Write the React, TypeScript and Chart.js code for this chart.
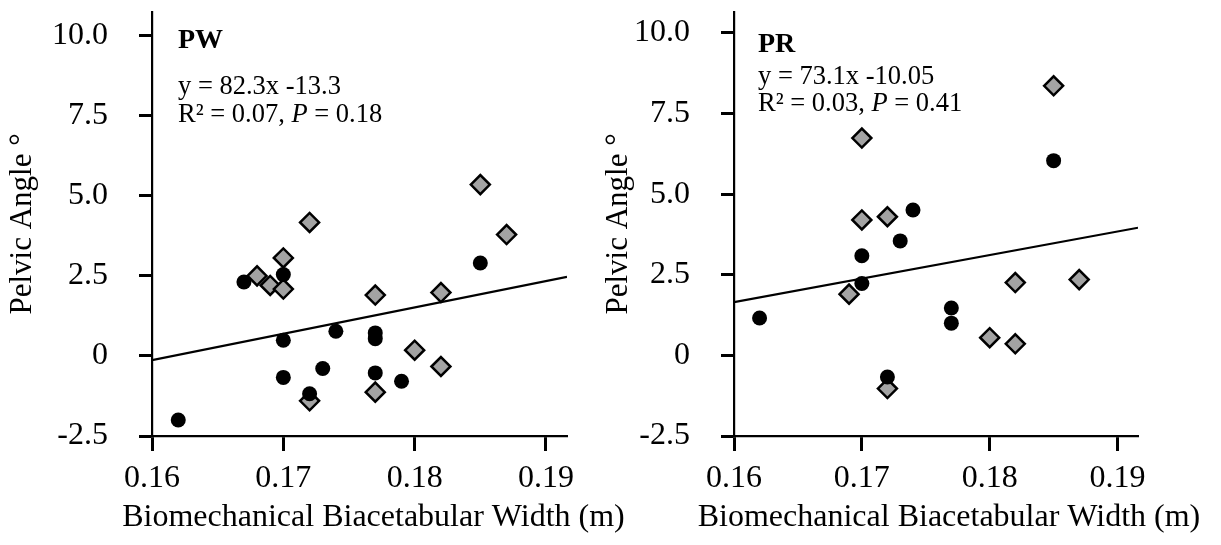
import React, { useEffect, useRef } from 'react';
import { Chart, registerables } from 'chart.js';

Chart.register(...registerables);

const FONT = '"Liberation Serif", "Times New Roman", Times, serif';

// axis ticks
const xTicks = [0.16, 0.17, 0.18, 0.19];
const xTickLabels = ['0.16', '0.17', '0.18', '0.19'];
const yTicks = [-2.5, 0, 2.5, 5, 7.5, 10];
const yTickLabels = ['-2.5', '0', '2.5', '5.0', '7.5', '10.0'];

// PW panel
const pwCircleX = [0.162, 0.167, 0.170, 0.170, 0.170, 0.172, 0.173, 0.174, 0.177, 0.177, 0.177, 0.179, 0.185];
const pwCircleY = [-2.0, 2.31, 2.54, 0.49, -0.67, -1.18, -0.39, 0.77, 0.72, 0.54, -0.53, -0.79, 2.90];
const pwDiamondX = [0.168, 0.169, 0.170, 0.170, 0.172, 0.172, 0.177, 0.177, 0.180, 0.182, 0.182, 0.185, 0.187];
const pwDiamondY = [2.50, 2.20, 3.06, 2.09, 4.17, -1.40, 1.90, -1.13, 0.18, 1.98, -0.33, 5.35, 3.79];
const pwTrendX = [0.16, 0.1916];
const pwTrendY = [-0.13, 2.47];

// PR panel
const prCircleX = [0.162, 0.170, 0.170, 0.172, 0.173, 0.174, 0.177, 0.177, 0.185];
const prCircleY = [1.16, 3.09, 2.23, -0.67, 3.55, 4.51, 1.47, 1.00, 6.04];
const prDiamondX = [0.169, 0.170, 0.170, 0.172, 0.172, 0.180, 0.182, 0.182, 0.185, 0.187];
const prDiamondY = [1.90, 6.74, 4.20, 4.30, -1.03, 0.55, 2.26, 0.36, 8.36, 2.35];
const prTrendX = [0.16, 0.1916];
const prTrendY = [1.65, 3.96];

const xTitle = 'Biomechanical Biacetabular Width (m)';
const yTitle = 'Pelvic Angle °';

const zip = (xs: number[], ys: number[]) => xs.map((x, i) => ({ x, y: ys[i] }));

const panelTextPlugin = {
  id: 'panelText',
  afterDraw(chart: any, _args: any, opts: any) {
    const ctx = chart.ctx;
    const ca = chart.chartArea;
    ctx.save();
    ctx.fillStyle = '#000';
    ctx.textAlign = 'left';
    ctx.textBaseline = 'alphabetic';
    const x0 = ca.left + opts.dx;
    ctx.font = `bold ${opts.labelSize}px ${FONT}`;
    ctx.fillText(opts.label, x0, opts.labelY);
    ctx.font = `${opts.eqSize}px ${FONT}`;
    ctx.fillText(opts.eq, x0, opts.eqY[0]);
    let x = x0;
    for (const part of opts.stats) {
      ctx.font = `${part.italic ? 'italic ' : ''}${opts.eqSize}px ${FONT}`;
      ctx.fillText(part.t, x, opts.eqY[1]);
      x += ctx.measureText(part.t).width;
    }
    ctx.textAlign = 'center';
    ctx.font = `${opts.xTitleSize}px ${FONT}`;
    ctx.fillText(xTitle, (ca.left + ca.right) / 2 + opts.xTitleShift, opts.xTitleY);
    ctx.restore();
  },
};

type PanelProps = {
  left: number;
  width: number;
  height: number;
  axisLeft: number;
  top: number;
  right: number;
  bottom: number;
  yMax: number;
  yTitlePad: number;
  circles: { x: number; y: number }[];
  diamonds: { x: number; y: number }[];
  trend: { x: number; y: number }[];
  text: any;
};

function Panel(p: PanelProps) {
  const ref = useRef<HTMLCanvasElement>(null);
  useEffect(() => {
    if (!ref.current) return;
    const tickFont = { family: FONT, size: 32 };
    const chart = new Chart(ref.current, {
      type: 'scatter',
      data: {
        datasets: [
          {
            label: 'circles',
            data: p.circles,
            pointStyle: 'circle',
            pointRadius: 7.5,
            pointBackgroundColor: '#000',
            pointBorderWidth: 0,
            pointBorderColor: '#000',
          },
          {
            label: 'diamonds',
            data: p.diamonds,
            pointStyle: 'rectRot',
            pointRadius: 9.5,
            pointBackgroundColor: '#a3a3a3',
            pointBorderColor: '#000',
            pointBorderWidth: 2.5,
          },
          {
            label: 'trend',
            data: p.trend,
            showLine: true,
            borderColor: '#000',
            borderWidth: 2.2,
            pointRadius: 0,
            fill: false,
          } as any,
        ],
      },
      options: {
        animation: false,
        responsive: false,
        devicePixelRatio: 1,
        layout: { padding: { left: 0, top: p.top, right: p.width - p.right, bottom: 0 } },
        plugins: {
          legend: { display: false },
          tooltip: { enabled: false },
          panelText: p.text,
        } as any,
        scales: {
          x: {
            type: 'linear',
            min: 0.16,
            max: 0.1916,
            afterBuildTicks: (s: any) => {
              s.ticks = xTicks.map((v) => ({ value: v }));
            },
            afterFit: (s: any) => {
              s.height = p.height - p.bottom;
              s.paddingLeft = 0;
              s.paddingRight = 0;
            },
            ticks: {
              callback: (_v: any, i: number) => xTickLabels[i],
              font: tickFont,
              color: '#000',
              padding: 8,
              maxRotation: 0,
              autoSkip: false,
            },
            grid: {
              display: true,
              drawOnChartArea: false,
              drawTicks: true,
              tickLength: 15,
              tickWidth: 3,
              tickColor: '#000',
              color: '#000',
            },
            border: { display: true, color: '#000', width: 2.2 },
            title: { display: false },
          },
          y: {
            type: 'linear',
            min: -2.5,
            max: p.yMax,
            afterBuildTicks: (s: any) => {
              s.ticks = yTicks.map((v) => ({ value: v }));
            },
            afterFit: (s: any) => {
              s.width = p.axisLeft;
              s.paddingTop = 0;
              s.paddingBottom = 0;
            },
            ticks: {
              callback: (_v: any, i: number) => yTickLabels[i],
              font: tickFont,
              color: '#000',
              padding: 31,
              autoSkip: false,
            },
            grid: {
              display: true,
              drawOnChartArea: false,
              drawTicks: true,
              tickLength: 13,
              tickWidth: 3,
              tickColor: '#000',
              color: '#000',
            },
            border: { display: true, color: '#000', width: 2.2 },
            title: {
              display: true,
              text: yTitle,
              color: '#000',
              font: { family: FONT, size: 31 },
              padding: { top: p.yTitlePad, bottom: 0 },
            },
          },
        },
      },
      plugins: [panelTextPlugin as any],
    });
    return () => chart.destroy();
  }, []);
  return (
    <canvas
      ref={ref}
      width={p.width}
      height={p.height}
      style={{ position: 'absolute', left: p.left, top: 0, display: 'block', width: p.width, height: p.height }}
    />
  );
}

export default function App() {
  return (
    <div style={{ position: 'absolute', left: 0, top: 0, width: 1221, height: 545, background: '#fff', overflow: 'hidden' }}>
      <Panel
        left={0}
        width={660}
        height={545}
        axisLeft={152}
        top={6}
        right={567}
        bottom={436}
        yMax={10.74}
        yTitlePad={4}
        circles={zip(pwCircleX, pwCircleY)}
        diamonds={zip(pwDiamondX, pwDiamondY)}
        trend={zip(pwTrendX, pwTrendY)}
        text={{
          dx: 26,
          label: 'PW',
          labelSize: 28,
          labelY: 48,
          eq: 'y = 82.3x -13.3',
          eqSize: 26.5,
          eqY: [94, 121.5],
          stats: [
            { t: 'R² = 0.07, ', italic: false },
            { t: 'P', italic: true },
            { t: ' = 0.18', italic: false },
          ],
          xTitleSize: 32,
          xTitleShift: 14,
          xTitleY: 526,
        }}
      />
      <Panel
        left={600}
        width={621}
        height={545}
        axisLeft={134}
        top={10}
        right={538}
        bottom={436}
        yMax={10.65}
        yTitlePad={0}
        circles={zip(prCircleX, prCircleY)}
        diamonds={zip(prDiamondX, prDiamondY)}
        trend={zip(prTrendX, prTrendY)}
        text={{
          dx: 24,
          label: 'PR',
          labelSize: 28,
          labelY: 51.5,
          eq: 'y = 73.1x -10.05',
          eqSize: 26.5,
          eqY: [83.5, 110.5],
          stats: [
            { t: 'R² = 0.03, ', italic: false },
            { t: 'P', italic: true },
            { t: ' = 0.41', italic: false },
          ],
          xTitleSize: 32,
          xTitleShift: 13,
          xTitleY: 526,
        }}
      />
    </div>
  );
}
